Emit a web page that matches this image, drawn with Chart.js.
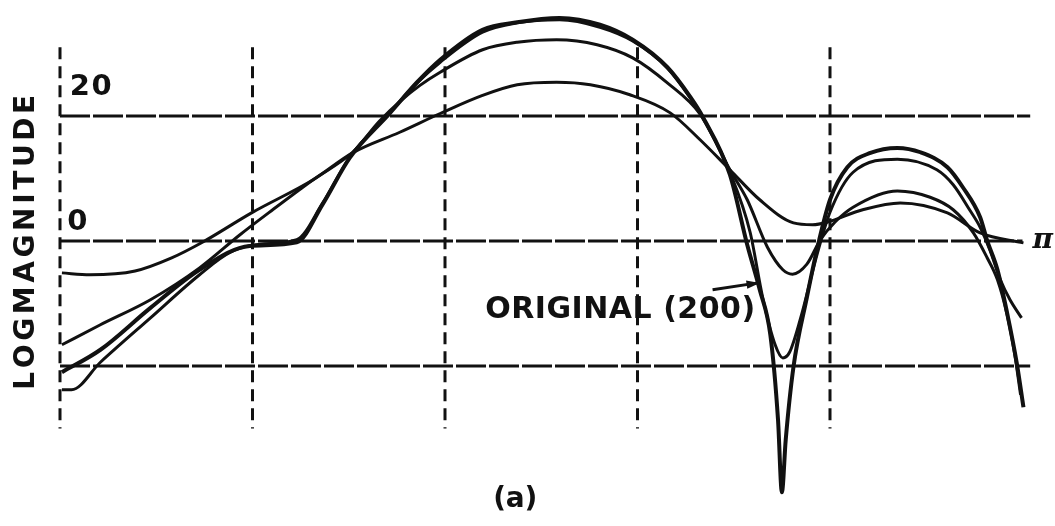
<!DOCTYPE html>
<html>
<head>
<meta charset="utf-8">
<script src="https://cdn.jsdelivr.net/npm/chart.js@4.4.0/dist/chart.umd.min.js"></script>
<style>
  html, body { margin: 0; padding: 0; background: #fff; }
  #wrap { width: 1055px; height: 526px; position: relative; }
</style>
</head>
<body>
<div id="wrap"><canvas id="grafico"></canvas></div>
<script>
// frecuencia en % de pi, magnitud en dB
const origX = [0.2, 4.2, 9.4, 14.5, 19.7, 24.6, 27.3, 30.1, 34.3, 37.1, 39.5, 43.9, 47.5, 51.9, 56.1, 59.5, 63.1, 65.5, 66.8, 69.6, 71.4, 72.7, 73.8, 74.6, 75.0, 75.4, 76.2, 77.6, 78.7, 80.0, 81.8, 84.2, 87.0, 89.4, 92.2, 93.8, 95.6, 96.3, 97.4, 98.4, 99.4, 100.1];
const origY = [-21.0, -17.4, -10.7, -4.6, -0.8, -0.2, 5.9, 13.3, 20.5, 25.4, 29.0, 33.8, 35.0, 35.7, 34.6, 32.2, 27.8, 23.0, 19.8, 10.6, -0.6, -7.8, -15.0, -28.6, -40.2, -31.8, -20.2, -9.0, -1.0, 6.6, 11.8, 14.1, 14.9, 14.2, 11.8, 8.6, 3.8, 0.2, -4.6, -11.5, -19.5, -26.6];

const bX = [0.2, 1.2, 4.2, 9.4, 14.5, 17.7, 20.8, 24.6, 27.3, 30.1, 34.3, 37.1, 39.5, 43.9, 47.5, 51.9, 56.1, 59.5, 63.1, 65.5, 66.8, 69.6, 71.7, 73.0, 74.3, 75.1, 75.8, 76.9, 78.7, 80.0, 82.4, 87.0, 91.1, 92.8, 94.5, 95.6, 96.6, 97.7, 98.7, 99.9];
const bY = [-23.8, -23.8, -19.4, -12.3, -5.4, -1.8, -0.5, 0.2, 6.1, 13.4, 20.6, 25.3, 28.6, 33.4, 34.9, 35.4, 34.2, 32.0, 27.7, 22.9, 19.8, 11.0, 1.4, -9.0, -16.6, -18.7, -17.8, -12.6, -1.9, 4.6, 11.0, 13.1, 11.4, 9.0, 5.0, 2.2, -1.4, -6.2, -9.4, -12.3];

const cX = [0.2, 4.2, 9.4, 14.5, 18.7, 22.1, 26.3, 30.4, 33.2, 35.3, 37.4, 39.5, 43.9, 47.5, 51.6, 55.8, 59.5, 63.1, 66.5, 69.6, 71.4, 73.5, 75.1, 76.1, 77.6, 79.0, 80.5, 82.4, 87.0, 90.4, 92.8, 94.9, 96.3, 97.4, 98.4, 99.2, 99.8];
const cY = [-16.6, -13.4, -9.4, -4.3, 1.0, 5.0, 9.8, 14.2, 19.2, 22.3, 24.9, 27.0, 30.6, 31.8, 32.2, 31.4, 29.3, 25.3, 20.3, 11.4, 6.6, -1.0, -4.6, -5.3, -3.7, 0.2, 3.0, 5.4, 8.0, 7.0, 5.0, 1.3, -2.6, -6.2, -11.8, -18.2, -24.6];

const aX = [0.2, 3.1, 7.8, 11.6, 14.8, 19.9, 26.3, 30.4, 35.3, 39.5, 43.9, 47.5, 51.6, 55.1, 59.2, 63.4, 66.5, 69.6, 72.7, 76.2, 78.2, 79.7, 83.4, 87.3, 92.2, 95.6, 100.1];
const aY = [-5.1, -5.4, -4.8, -2.7, -0.2, 4.5, 9.8, 14.1, 17.4, 20.4, 23.3, 25.0, 25.4, 25.0, 23.4, 20.5, 16.2, 11.4, 6.6, 2.9, 2.6, 3.0, 5.0, 6.1, 4.5, 1.3, -0.3];

// rejilla: verticales (x) y horizontales (dB)
const gridX = [0, 20, 40, 60, 80];
const gridTop = 31, gridBottom = -30;
const gridY = [20, 0, -20];
const gridEnd = [100.8, 100, 100.8];

// rótulos de las marcas
const tickLabels = [{ text: "20", x: 3.2, y: 24.5, w: 42 }, { text: "0", x: 1.8, y: 2.9, w: 20 }];

function pts(xs, ys) {
  return xs.map((x, i) => ({ x: x, y: ys[i] }));
}

const INK = "#111";
const datasets = [];

gridX.forEach((gx) => {
  datasets.push({
    data: [{ x: gx, y: gridTop }, { x: gx, y: gridBottom }],
    borderColor: INK, borderWidth: 3, borderDash: [12, 7], pointRadius: 0, clip: false
  });
});
gridY.forEach((gy, i) => {
  datasets.push({
    data: [{ x: 0, y: gy }, { x: gridEnd[i], y: gy }],
    borderColor: INK, borderWidth: 3, borderDash: [30, 3], pointRadius: 0, clip: false
  });
});

[[aX, aY, 3], [cX, cY, 3], [bX, bY, 3], [origX, origY, 4]].forEach(([xs, ys, w]) => {
  datasets.push({
    data: pts(xs, ys),
    borderColor: INK,
    borderWidth: w,
    pointRadius: 0,
    cubicInterpolationMode: "monotone",
    clip: false
  });
});

function fitText(ctx, text, cx, cy, width) {
  const widths = [...text].map((ch) => ctx.measureText(ch).width);
  const total = widths.reduce((s, v) => s + v, 0);
  const gap = text.length > 1 ? (width - total) / (text.length - 1) : 0;
  let x = cx - width / 2;
  ctx.textAlign = "left";
  ctx.textBaseline = "middle";
  [...text].forEach((ch, i) => {
    ctx.fillText(ch, x, cy);
    x += widths[i] + gap;
  });
}

const rotulos = {
  id: "rotulos",
  afterDatasetsDraw(chart) {
    const ctx = chart.ctx;
    const sx = chart.scales.x, sy = chart.scales.y;
    ctx.save();
    ctx.fillStyle = INK;
    ctx.strokeStyle = INK;

    ctx.font = "bold 29px 'DejaVu Sans'";
    tickLabels.forEach((t) => fitText(ctx, t.text, sx.getPixelForValue(t.x), sy.getPixelForValue(t.y), t.w));

    // eje vertical
    ctx.save();
    ctx.translate(sx.getPixelForValue(-3.5), sy.getPixelForValue(-0.2));
    ctx.rotate(-Math.PI / 2);
    ctx.font = "bold 28px 'DejaVu Sans'";
    fitText(ctx, "LOGMAGNITUDE", 0, 0, 295);
    ctx.restore();

    ctx.font = "bold 30px 'DejaVu Sans'";
    fitText(ctx, "ORIGINAL (200)", sx.getPixelForValue(58.2), sy.getPixelForValue(-11.0), 270);

    ctx.font = "bold 28px 'DejaVu Sans'";
    fitText(ctx, "(a)", sx.getPixelForValue(47.3), sy.getPixelForValue(-41.4), 44);

    ctx.font = "italic bold 28px 'DejaVu Serif'";
    ctx.textAlign = "center";
    ctx.textBaseline = "middle";
    ctx.fillText("π", sx.getPixelForValue(102.1), sy.getPixelForValue(0));

    // flecha hacia la original
    const x1 = sx.getPixelForValue(67.8), y1 = sy.getPixelForValue(-7.8);
    const x2 = sx.getPixelForValue(72.5), y2 = sy.getPixelForValue(-6.7);
    ctx.lineWidth = 3;
    ctx.beginPath();
    ctx.moveTo(x1, y1);
    ctx.lineTo(x2, y2);
    ctx.stroke();
    const ang = Math.atan2(y2 - y1, x2 - x1);
    ctx.beginPath();
    ctx.moveTo(x2 + 2, y2);
    ctx.lineTo(x2 - 12 * Math.cos(ang - 0.35), y2 - 12 * Math.sin(ang - 0.35));
    ctx.lineTo(x2 - 12 * Math.cos(ang + 0.35), y2 - 12 * Math.sin(ang + 0.35));
    ctx.closePath();
    ctx.fill();
    ctx.restore();
  }
};

new Chart(document.getElementById("grafico"), {
  type: "line",
  data: { datasets },
  options: {
    responsive: true,
    maintainAspectRatio: false,
    animation: false,
    layout: { padding: { left: 60, right: 32.5, top: 3.5, bottom: 22.5 } },
    scales: {
      x: { type: "linear", min: 0, max: 100, display: false },
      y: { min: -42, max: 38, display: false }
    },
    plugins: { legend: { display: false }, tooltip: { enabled: false } }
  },
  plugins: [rotulos]
});
</script>
</body>
</html>
